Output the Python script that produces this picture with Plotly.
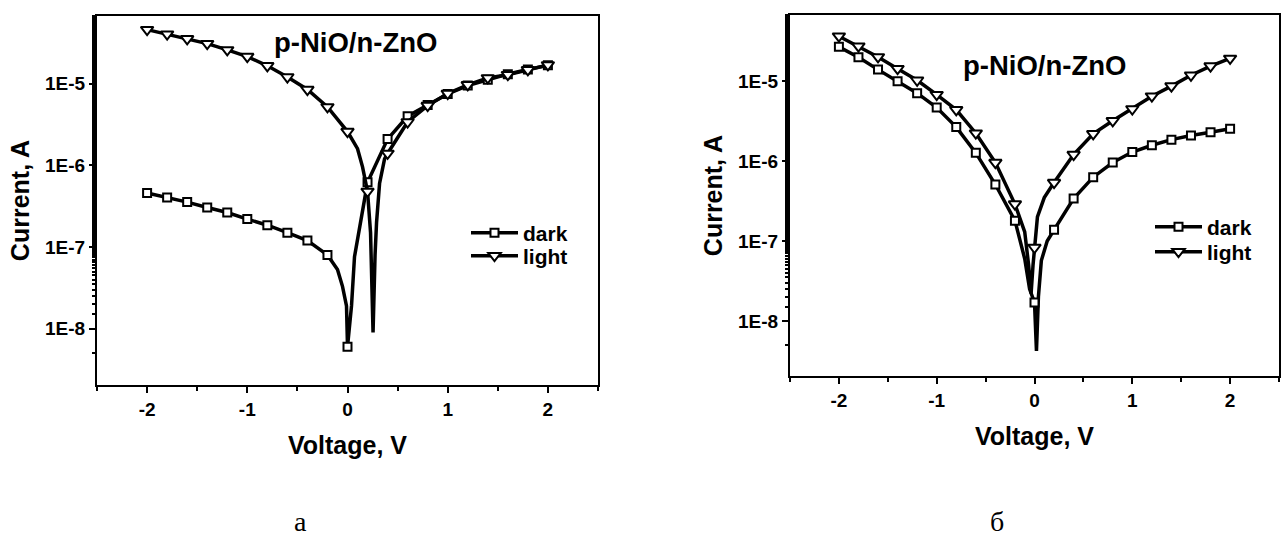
import plotly.graph_objects as go

# ---------------- data ----------------
V_marks = [-2.0, -1.8, -1.6, -1.4, -1.2, -1.0, -0.8, -0.6, -0.4, -0.2,
           0.0, 0.2, 0.4, 0.6, 0.8, 1.0, 1.2, 1.4, 1.6, 1.8, 2.0]

# panel a
a_dark = [4.6e-7, 4.05e-7, 3.55e-7, 3.05e-7, 2.65e-7, 2.2e-7, 1.85e-7, 1.5e-7, 1.2e-7, 8.0e-8,
          6.0e-9, 6.2e-7, 2.1e-6, 4.0e-6, 5.5e-6, 7.5e-6, 9.5e-6, 1.12e-5, 1.31e-5, 1.5e-5, 1.68e-5]
a_light = [4.6e-5, 4.05e-5, 3.55e-5, 3.1e-5, 2.6e-5, 2.15e-5, 1.66e-5, 1.21e-5, 8.5e-6, 5.2e-6,
           2.6e-6, 4.8e-7, 1.4e-6, 3.4e-6, 5.4e-6, 7.6e-6, 9.7e-6, 1.18e-5, 1.29e-5, 1.48e-5, 1.7e-5]
# extra curve points read along the line between markers (dip regions)
a_dark_curve_V = [-0.1, -0.05, -0.01, 0.04, 0.07, 0.12, 0.17]
a_dark_curve_I = [5.3e-8, 3.3e-8, 1.9e-8, 1.9e-8, 7.6e-8, 1.8e-7, 4.2e-7]
a_light_curve_V = [0.1, 0.15, 0.23, 0.24, 0.255, 0.275, 0.29, 0.32, 0.37]
a_light_curve_I = [1.6e-6, 9.6e-7, 1.5e-7, 6e-8, 9e-9, 8e-8, 2e-7, 6e-7, 1.2e-6]

# panel б
b_dark = [2.7e-5, 2.0e-5, 1.4e-5, 1.0e-5, 7.1e-6, 4.7e-6, 2.67e-6, 1.27e-6, 5.1e-7, 1.8e-7,
          1.7e-8, 1.38e-7, 3.4e-7, 6.3e-7, 9.6e-7, 1.3e-6, 1.58e-6, 1.86e-6, 2.1e-6, 2.3e-6, 2.55e-6]
b_light = [3.67e-5, 2.75e-5, 2.02e-5, 1.44e-5, 1.03e-5, 6.8e-6, 4.4e-6, 2.24e-6, 9.6e-7, 2.9e-7,
           8.3e-8, 5.4e-7, 1.21e-6, 2.2e-6, 3.2e-6, 4.5e-6, 6.5e-6, 8.7e-6, 1.19e-5, 1.55e-5, 1.93e-5]
b_dark_curve_V = [-0.1, -0.05, 0.02, 0.04, 0.07, 0.13]
b_dark_curve_I = [6e-8, 2.5e-8, 4.2e-9, 2e-8, 5.7e-8, 1.0e-7]
b_light_curve_V = [-0.1, -0.06, -0.035, -0.015, 0.03, 0.1]
b_light_curve_I = [1.3e-7, 5e-8, 2.2e-8, 5e-8, 2e-7, 3.5e-7]

y_tickvals = [1e-8, 1e-7, 1e-6, 1e-5]
y_ticktext = ["1E-8", "1E-7", "1E-6", "1E-5"]
x_tickvals = [-2, -1, 0, 1, 2]
x_ticktext = ["-2", "-1", "0", "1", "2"]

panel_title = "p-NiO/n-ZnO"
x_title = "Voltage, V"
y_title = "Current, A"
names = ["dark", "light"]

# ---------------- figure ----------------
W, H = 1282, 539
FONT = "Liberation Sans, Arial, sans-serif"
BLACK = "#000000"


def merged(vm, im, vc, ic):
    pts = sorted(list(zip(vm, im)) + list(zip(vc, ic)))
    return [p[0] for p in pts], [p[1] for p in pts]


def px_x(p):
    return p / W


def px_y(p):
    return 1 - p / H


fig = go.Figure()

panels = [
    dict(xa="x", ya="y", legs=["legend", "legend2"],
         series=[(a_dark, a_dark_curve_V, a_dark_curve_I, "square", 8),
                 (a_light, a_light_curve_V, a_light_curve_I, "triangle-down", 11)]),
    dict(xa="x2", ya="y2", legs=["legend3", "legend4"],
         series=[(b_dark, b_dark_curve_V, b_dark_curve_I, "square", 8),
                 (b_light, b_light_curve_V, b_light_curve_I, "triangle-down", 11)]),
]

for pn in panels:
    for k, (imarks, vc, ic, sym, msz) in enumerate(pn["series"]):
        lx, ly = merged(V_marks, imarks, vc, ic)
        fig.add_trace(go.Scatter(x=lx, y=ly, mode="lines", xaxis=pn["xa"], yaxis=pn["ya"],
                                 line=dict(color=BLACK, width=3.5), showlegend=False,
                                 hoverinfo="skip"))
        fig.add_trace(go.Scatter(x=V_marks, y=imarks, mode="markers", xaxis=pn["xa"], yaxis=pn["ya"],
                                 marker=dict(symbol=sym, size=msz, color="white",
                                             line=dict(color=BLACK, width=2)),
                                 showlegend=False, name=names[k]))
        fig.add_trace(go.Scatter(x=[None], y=[None], mode="lines+markers", xaxis=pn["xa"], yaxis=pn["ya"],
                                 marker=dict(symbol=sym, size=msz, color="white",
                                             line=dict(color=BLACK, width=2)),
                                 line=dict(color=BLACK, width=3.5),
                                 name="<b>" + names[k] + "</b>", legend=pn["legs"][k], showlegend=True))

axis_common = dict(showline=True, linecolor=BLACK, linewidth=2, mirror=True,
                   ticks="outside", ticklen=6, tickwidth=2, tickcolor=BLACK,
                   showgrid=False, zeroline=False,
                   tickfont=dict(family=FONT, size=19, color=BLACK, weight="bold"))

xa = dict(axis_common, range=[-2.5, 2.5], tickmode="array", tickvals=x_tickvals, ticktext=x_ticktext,
          minor=dict(dtick=0.5, ticks="outside", ticklen=3.5, tickwidth=2, tickcolor=BLACK),
          title=dict(text=x_title, font=dict(family=FONT, size=25, color=BLACK, weight="bold"), standoff=18))
ya = dict(axis_common, type="log", range=[-8.69, -4.17], tickmode="array",
          tickvals=y_tickvals, ticktext=y_ticktext,
          minor=dict(ticks="outside", ticklen=3.5, tickwidth=1.5, tickcolor=BLACK),
          title=dict(text=y_title, font=dict(family=FONT, size=25, color=BLACK, weight="bold"), standoff=8))

leg_font = dict(family=FONT, size=21, color=BLACK, weight="bold")


def leg(xp, yp):
    return dict(x=px_x(xp), y=px_y(yp), xanchor="left", yanchor="middle",
                font=leg_font, bgcolor="rgba(0,0,0,0)", borderwidth=0,
                itemwidth=47, tracegroupgap=0)


fig.update_layout(
    width=W, height=H,
    margin=dict(l=0, r=0, t=0, b=0),
    paper_bgcolor="white", plot_bgcolor="white",
    xaxis=dict(xa, domain=[px_x(97), px_x(598)], anchor="y"),
    yaxis=dict(ya, domain=[px_y(385), px_y(16)], anchor="x"),
    xaxis2=dict(xa, domain=[px_x(790), px_x(1279)], anchor="y2"),
    yaxis2=dict(ya, domain=[px_y(376), px_y(15)], anchor="x2"),
    legend=leg(466, 233),
    legend2=leg(466, 256),
    legend3=leg(1150, 227),
    legend4=leg(1150, 252),
    showlegend=True,
    annotations=[
        dict(text=panel_title, xref="paper", yref="paper", x=px_x(272), y=px_y(43),
             xanchor="left", yanchor="middle", showarrow=False,
             font=dict(family=FONT, size=27.5, color=BLACK, weight="bold")),
        dict(text=panel_title, xref="paper", yref="paper", x=px_x(961), y=px_y(65),
             xanchor="left", yanchor="middle", showarrow=False,
             font=dict(family=FONT, size=27.5, color=BLACK, weight="bold")),
        dict(text="а", xref="paper", yref="paper", x=px_x(300), y=px_y(539),
             xanchor="center", yanchor="bottom", showarrow=False,
             font=dict(family="Liberation Serif, Times New Roman, serif", size=28, color=BLACK)),
        dict(text="б", xref="paper", yref="paper", x=px_x(997), y=px_y(539),
             xanchor="center", yanchor="bottom", showarrow=False,
             font=dict(family="Liberation Serif, Times New Roman, serif", size=28, color=BLACK)),
    ],
)

fig.write_html("out.html")
